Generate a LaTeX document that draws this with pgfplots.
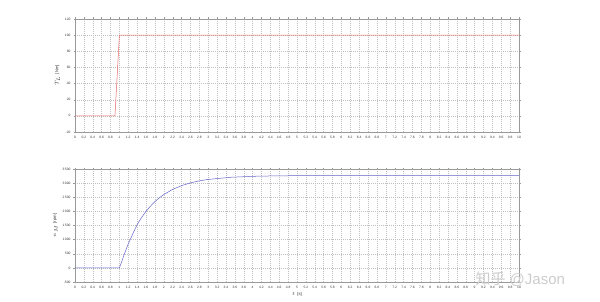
\documentclass[border=0pt]{standalone}
\usepackage{pgfplots}
\pgfplotsset{compat=1.18}
\usepackage{fontspec}
\setmainfont{Liberation Sans}
\newfontfamily\cjk{Noto Sans CJK SC}
\definecolor{redline}{RGB}{230,100,100}
\definecolor{blueline}{RGB}{100,100,200}
\begin{document}
\begin{tikzpicture}
\useasboundingbox (0pt,0pt) rectangle (600pt,302pt);
\pgfplotsset{
  every axis/.append style={
    scale only axis, width=444pt, height=113pt,
    xmin=0, xmax=10,
    xtick distance=0.2,
    grid=major,
    major grid style={gray!50, dash pattern=on 1pt off 1pt, line width=0.3pt},
    axis line style={gray!80, line width=0.4pt},
    tick style={gray!80, line width=0.3pt},
    tick align=outside,
    major tick length=1.5pt,
    ticklabel style={font=\fontsize{3.3}{4}\selectfont, text=black!80},
    label style={font=\fontsize{4.2}{5}\selectfont, text=black!80},
    /pgf/number format/assume math mode=true,
    /pgf/number format/1000 sep={\,},
    xticklabel style={yshift=0.5pt},
    yticklabel style={xshift=0.5pt},
  }
}
\begin{axis}[
  at={(75pt,170pt)}, anchor=south west,
  ymin=-20, ymax=120, ytick distance=20,
  ylabel={$T_L$ \ [Nm]},
  ylabel style={yshift=-2pt},
]
\addplot[color=redline, line width=0.5pt] coordinates {(0,0) (0.9,0) (1.0,100) (10,100)};
\end{axis}
\begin{axis}[
  at={(75pt,20pt)}, anchor=south west,
  ymin=-500, ymax=3500, ytick distance=500,
  ylabel={$n_M$ \ [rpm]},
  ylabel style={yshift=-2pt},
  xlabel={$t$ \ [s]},
  xlabel style={yshift=3pt},
]
\addplot[color=blueline, line width=0.5pt] coordinates {
(0,0) (1.0,0) (1.05,210) (1.1,440) (1.2,850) (1.3,1200) (1.4,1532) (1.5,1786)
(1.6,2003) (1.7,2185) (1.8,2346) (1.9,2480) (2.0,2596) (2.2,2779) (2.4,2912)
(2.6,3009) (2.8,3080) (3.0,3131) (3.5,3207) (4.0,3241) (4.5,3257) (5.0,3264)
(6.0,3269) (7.0,3270) (10,3270)};
\end{axis}
\node[anchor=west, text=gray!40, font=\fontsize{15}{16}\selectfont] at (472pt,23pt) {{\cjk 知乎} @Jason};
\end{tikzpicture}
\end{document}
